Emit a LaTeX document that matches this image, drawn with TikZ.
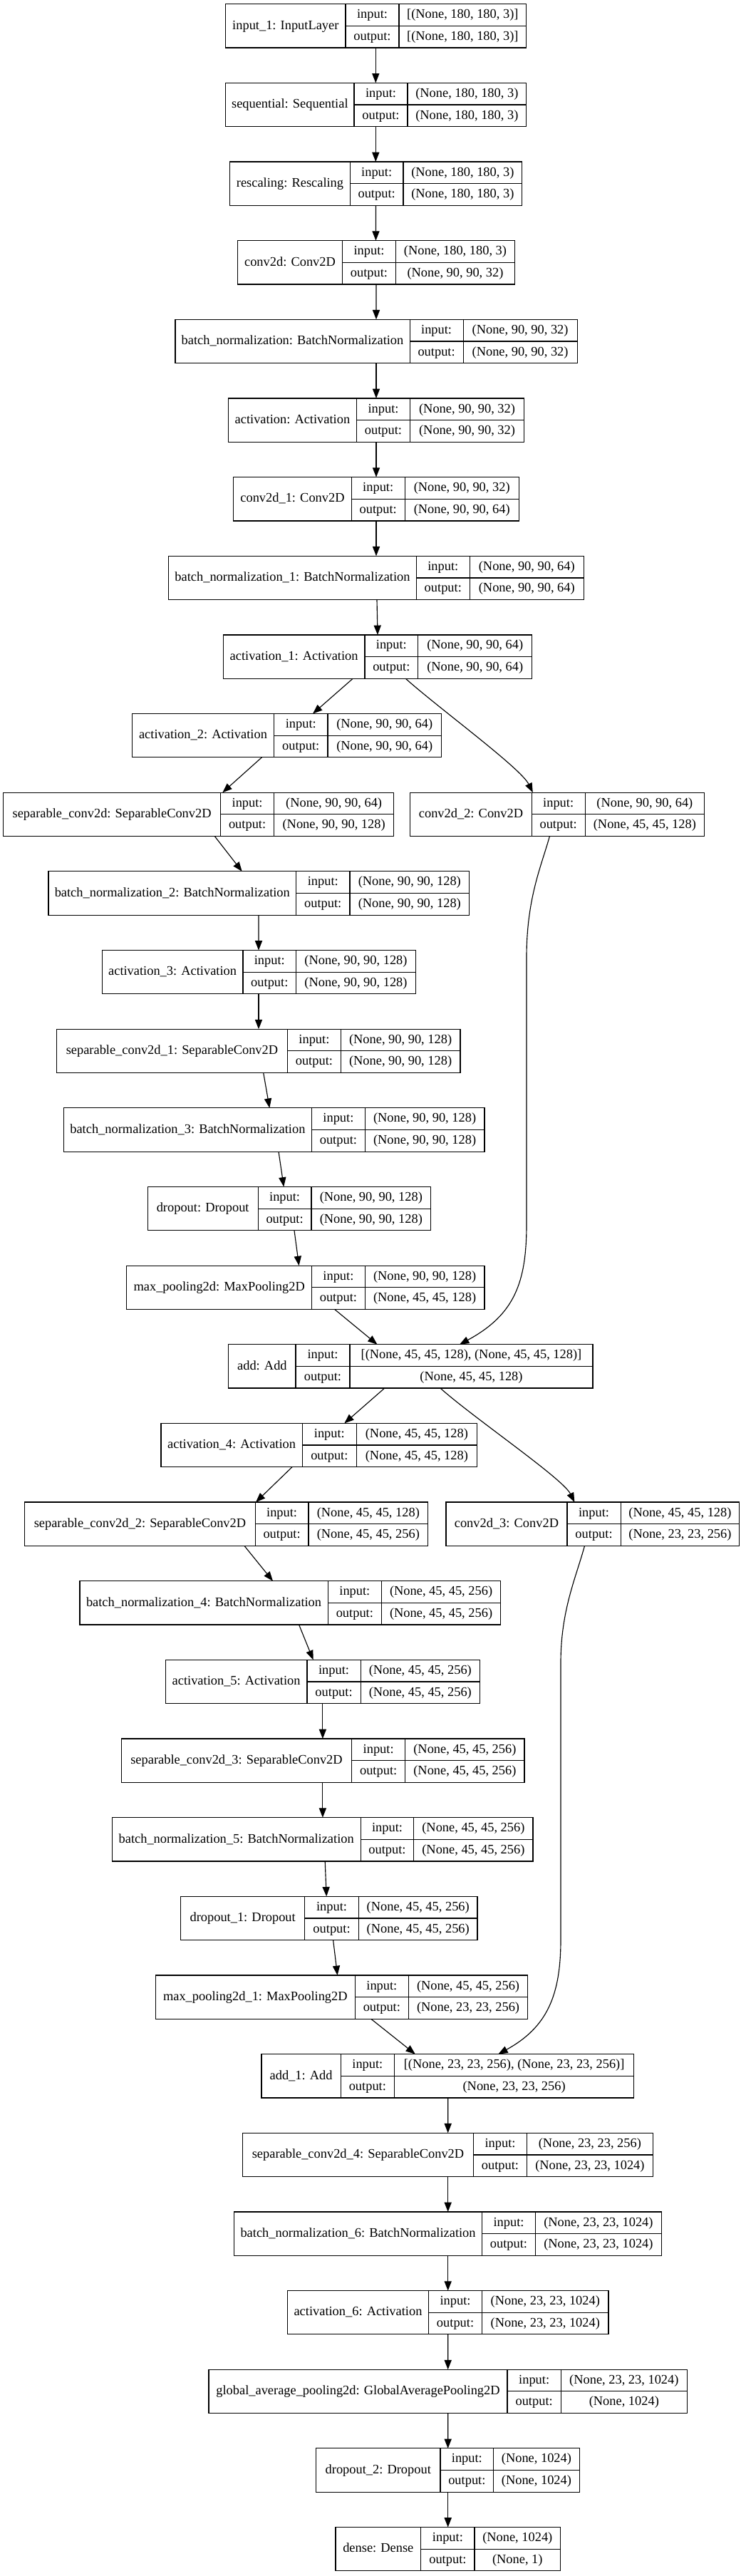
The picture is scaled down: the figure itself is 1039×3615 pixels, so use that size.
\documentclass[tikz,border=0pt]{standalone}
\usepackage{fontspec}
\setmainfont{Liberation Serif}
\usetikzlibrary{arrows.meta,calc}
\tikzset{
  boxnode/.style={draw, line width=0.9pt, inner sep=0pt, outer sep=0pt, minimum height=45.975pt},
  innerline/.style={line width=0.9pt},
  lbl/.style={inner sep=0pt, font=\fontsize{13.8pt}{16pt}\selectfont, text height=9.9pt, text depth=2.8pt},
  edge/.style={line width=0.85pt, -{Triangle[length=10pt,width=7.6pt]}},
}
% \layer{name}{row}{left}{split1}{split2}{right}{label}{input}{output}
\newcommand\layer[9]{%
  \pgfmathsetmacro\lyT{5.7+110.65*#2}%
  \pgfmathsetmacro\lyB{\lyT+61.3}%
  \pgfmathsetmacro\lyM{\lyT+30.65}%
  \pgfmathsetmacro\lyI{\lyT+15.33}%
  \pgfmathsetmacro\lyO{\lyT+45.98}%
  \pgfmathsetmacro\lyW{(#6-#3)*0.75}%
  \expandafter\xdef\csname Lft@#1\endcsname{#3}%
  \node[boxnode, minimum width=\lyW pt, anchor=north west] (#1) at (#3,\lyT) {};
  \draw[innerline] (#4,\lyT) -- (#4,\lyB) (#5,\lyT) -- (#5,\lyB) (#4,\lyM) -- (#6,\lyM);
  \node[lbl] (#1-name) at ({(#3+#4)/2},\lyM) {#7};
  \node[lbl] (#1-in) at ({(#4+#5)/2},\lyI) {input:};
  \node[lbl] (#1-out) at ({(#4+#5)/2},\lyO) {output:};
  \node[lbl] (#1-inv) at ({(#5+#6)/2},\lyI) {#8};
  \node[lbl] (#1-outv) at ({(#5+#6)/2},\lyO) {#9};
}
\newcommand\conn[4]{%
  \draw[edge] ($(#1.south west)+({#2-\csname Lft@#1\endcsname},0)$) -- ($(#3.north west)+({#4-\csname Lft@#3\endcsname},0)$);%
}
\begin{document}
\begin{tikzpicture}[x=0.75pt, y=-0.75pt]
\fill[white] (0,0) rectangle (1039,3615);
\useasboundingbox (0,0) rectangle (1039,3615);

\layer{n0}{0}{316.7}{485}{560}{738.7}{input\_1: InputLayer}{[(None, 180, 180, 3)]}{[(None, 180, 180, 3)]}
\layer{n1}{1}{316.7}{497}{572}{738.7}{sequential: Sequential}{(None, 180, 180, 3)}{(None, 180, 180, 3)}
\layer{n2}{2}{322.7}{491.3}{566}{732.7}{rescaling: Rescaling}{(None, 180, 180, 3)}{(None, 180, 180, 3)}
\layer{n3}{3}{333.5}{480.5}{555.5}{722.5}{conv2d: Conv2D}{(None, 180, 180, 3)}{(None, 90, 90, 32)}
\layer{n4}{4}{245.9}{575.1}{650.1}{810.1}{batch\_normalization: BatchNormalization}{(None, 90, 90, 32)}{(None, 90, 90, 32)}
\layer{n5}{5}{320.4}{500.5}{575.5}{735.6}{activation: Activation}{(None, 90, 90, 32)}{(None, 90, 90, 32)}
\layer{n6}{6}{327.8}{493.2}{568.2}{728.2}{conv2d\_1: Conv2D}{(None, 90, 90, 32)}{(None, 90, 90, 64)}
\layer{n7}{7}{236.7}{584.3}{659.3}{819.3}{batch\_normalization\_1: BatchNormalization}{(None, 90, 90, 64)}{(None, 90, 90, 64)}
\layer{n8}{8}{313.4}{511.9}{586.8}{746.7}{activation\_1: Activation}{(None, 90, 90, 64)}{(None, 90, 90, 64)}
\layer{n9}{9}{185.5}{384.5}{460}{619.4}{activation\_2: Activation}{(None, 90, 90, 64)}{(None, 90, 90, 64)}
\layer{n10}{10}{4.6}{309.6}{384.6}{552.7}{separable\_conv2d: SeparableConv2D}{(None, 90, 90, 64)}{(None, 90, 90, 128)}
\layer{c10}{10}{575.8}{746.2}{821.1}{988.7}{conv2d\_2: Conv2D}{(None, 90, 90, 64)}{(None, 45, 45, 128)}
\layer{n11}{11}{68}{415.6}{490.9}{658.7}{batch\_normalization\_2: BatchNormalization}{(None, 90, 90, 128)}{(None, 90, 90, 128)}
\layer{n12}{12}{143.2}{341}{415.6}{583.4}{activation\_3: Activation}{(None, 90, 90, 128)}{(None, 90, 90, 128)}
\layer{n13}{13}{79.3}{403.6}{478.2}{646}{separable\_conv2d\_1: SeparableConv2D}{(None, 90, 90, 128)}{(None, 90, 90, 128)}
\layer{n14}{14}{89.2}{437.6}{512.2}{680}{batch\_normalization\_3: BatchNormalization}{(None, 90, 90, 128)}{(None, 90, 90, 128)}
\layer{n15}{15}{207.1}{362.3}{436.9}{604.8}{dropout: Dropout}{(None, 90, 90, 128)}{(None, 90, 90, 128)}
\layer{n16}{16}{177.8}{437.6}{512.2}{680}{max\_pooling2d: MaxPooling2D}{(None, 90, 90, 128)}{(None, 45, 45, 128)}
\layer{n17}{17}{320.8}{415}{491}{832}{add: Add}{[(None, 45, 45, 128), (None, 45, 45, 128)]}{(None, 45, 45, 128)}
\layer{n18}{18}{225.9}{424.4}{500.3}{669.5}{activation\_4: Activation}{(None, 45, 45, 128)}{(None, 45, 45, 128)}
\layer{n19}{19}{34.6}{358.3}{432.9}{600.8}{separable\_conv2d\_2: SeparableConv2D}{(None, 45, 45, 128)}{(None, 45, 45, 256)}
\layer{c19}{19}{626}{795.9}{871.2}{1037.7}{conv2d\_3: Conv2D}{(None, 45, 45, 128)}{(None, 23, 23, 256)}
\layer{n20}{20}{111.9}{460.2}{535.5}{702.7}{batch\_normalization\_4: BatchNormalization}{(None, 45, 45, 256)}{(None, 45, 45, 256)}
\layer{n21}{21}{232.4}{430.9}{506.2}{673.4}{activation\_5: Activation}{(None, 45, 45, 256)}{(None, 45, 45, 256)}
\layer{n22}{22}{170.5}{493.5}{568.8}{736}{separable\_conv2d\_3: SeparableConv2D}{(None, 45, 45, 256)}{(None, 45, 45, 256)}
\layer{n23}{23}{157.2}{506.2}{580.8}{748}{batch\_normalization\_5: BatchNormalization}{(None, 45, 45, 256)}{(None, 45, 45, 256)}
\layer{n24}{24}{253.8}{427.6}{503.5}{670}{dropout\_1: Dropout}{(None, 45, 45, 256)}{(None, 45, 45, 256)}
\layer{n25}{25}{218.5}{498.2}{573.5}{740.6}{max\_pooling2d\_1: MaxPooling2D}{(None, 45, 45, 256)}{(None, 23, 23, 256)}
\layer{n26}{26}{367}{478.2}{553.5}{889.8}{add\_1: Add}{[(None, 23, 23, 256), (None, 23, 23, 256)]}{(None, 23, 23, 256)}
\layer{n27}{27}{340.3}{664.7}{739.3}{916.5}{separable\_conv2d\_4: SeparableConv2D}{(None, 23, 23, 256)}{(None, 23, 23, 1024)}
\layer{n28}{28}{328.4}{676.7}{751.3}{928.5}{batch\_normalization\_6: BatchNormalization}{(None, 23, 23, 1024)}{(None, 23, 23, 1024)}
\layer{n29}{29}{403.6}{601.4}{676.7}{853.9}{activation\_6: Activation}{(None, 23, 23, 1024)}{(None, 23, 23, 1024)}
\layer{n30}{30}{293}{712}{787.3}{964.4}{global\_average\_pooling2d: GlobalAveragePooling2D}{(None, 23, 23, 1024)}{(None, 1024)}
\layer{n31}{31}{443.6}{618}{692.7}{813.2}{dropout\_2: Dropout}{(None, 1024)}{(None, 1024)}
\layer{n32}{32}{470.9}{590.8}{666}{786.6}{dense: Dense}{(None, 1024)}{(None, 1)}

% connectors
\conn{n0}{527.3}{n1}{527.3}
\conn{n1}{527.3}{n2}{527.3}
\conn{n2}{527.5}{n3}{527.5}
\conn{n3}{528}{n4}{528}
\conn{n4}{528}{n5}{528}
\conn{n5}{528}{n6}{528}
\conn{n6}{528}{n7}{528}
\conn{n7}{529}{n8}{530}
\conn{n8}{495.3}{n9}{439}
\draw[edge] ($(n8.south west)+({569.2-313.4},0)$) .. controls (616,994) and (731,1078) .. ($(c10.north west)+({747.8-575.8},0)$);
\conn{n9}{367.4}{n10}{312.3}
\conn{n10}{301.3}{n11}{339.7}
\conn{n11}{363}{n12}{363}
\conn{n12}{363}{n13}{363}
\conn{n13}{369.7}{n14}{378.3}
\conn{n14}{391}{n15}{398.3}
\conn{n15}{413}{n16}{419.6}
\conn{n16}{469.6}{n17}{529.5}
\draw[edge] ($(c10.south west)+({771.4-575.8},0)$) .. controls (760,1215) and (739,1260) .. (739,1344) -- (739,1718) .. controls (739,1800) and (722,1845) .. ($(n17.north west)+({645-320.8},0)$);
\conn{n17}{539.7}{n18}{483.3}
\draw[edge] ($(n17.south west)+({618-320.8},0)$) .. controls (665,1990) and (790,2075) .. ($(c19.north west)+({806.4-626},0)$);
\conn{n18}{410}{n19}{359}
\conn{n19}{343}{n20}{383}
\conn{n20}{419.6}{n21}{439.6}
\conn{n21}{452.9}{n22}{452.9}
\conn{n22}{452.9}{n23}{452.9}
\conn{n23}{456.2}{n24}{458.2}
\conn{n24}{467.6}{n25}{473.6}
\conn{n25}{520.8}{n26}{582.8}
\draw[edge] ($(c19.south west)+({820.5-626},0)$) .. controls (808,2215) and (787,2260) .. (787,2334) -- (787,2722) .. controls (787,2800) and (768,2845) .. ($(n26.north west)+({699.3-367},0)$);
\conn{n26}{628.7}{n27}{628.7}
\conn{n27}{628.7}{n28}{628.7}
\conn{n28}{628.7}{n29}{628.7}
\conn{n29}{628.7}{n30}{628.7}
\conn{n30}{628.7}{n31}{628.7}
\conn{n31}{628.7}{n32}{628.7}
\end{tikzpicture}
\end{document}
